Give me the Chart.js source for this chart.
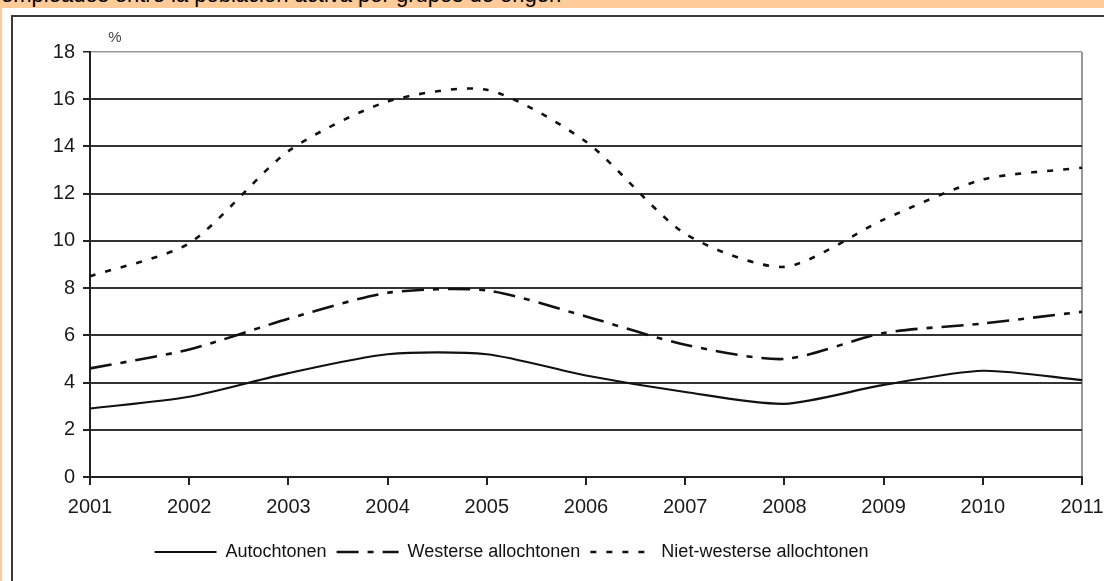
<!DOCTYPE html>
<html>
<head>
<meta charset="utf-8">
<script src="https://cdn.jsdelivr.net/npm/chart.js@4.4.1/dist/chart.umd.min.js"></script>
<style>
    html, body { margin: 0; padding: 0; }
    body { width: 1104px; height: 581px; overflow: hidden; position: relative; background: #ffcc99; font-family: "Liberation Sans", Arial, sans-serif; }
    .titulo { position: absolute; left: 1px; top: -16px; font-size: 22px; line-height: 1; color: #000; white-space: nowrap; }
    .hoja { position: absolute; left: 2px; top: 8px; right: 0; bottom: 0; background: #fff; }
    .marco { position: absolute; left: 11px; top: 15px; width: 1200px; height: 700px; border: 2px solid #3a3a3a; }
    .lienzo { position: absolute; left: 13px; top: 19px; width: 1091px; height: 562px; }
</style>
</head>
<body>
<div class="titulo">empleados entre la población activa por grupos de origen</div>
<div class="hoja"></div>
<div class="marco"></div>
<div class="lienzo"><canvas id="grafico" width="1091" height="562"></canvas></div>

<script>
// --- Datos (paro en %, por grupo de origen) ---
const anos = ['2001', '2002', '2003', '2004', '2005', '2006', '2007', '2008', '2009', '2010', '2011'];
const autochtonen = [2.9, 3.4, 4.4, 5.2, 5.2, 4.3, 3.6, 3.1, 3.9, 4.5, 4.1];
const westerse = [4.6, 5.4, 6.7, 7.8, 7.9, 6.8, 5.6, 5.0, 6.1, 6.5, 7.0];
const nietWesterse = [8.5, 9.9, 13.8, 15.9, 16.4, 14.2, 10.3, 8.9, 10.9, 12.6, 13.1];
const marcasY = [0, 2, 4, 6, 8, 10, 12, 14, 16, 18];

// pequeño plugin para el "%" encima del eje y, y para mover la leyenda un poco a la izquierda
const extras = {
    id: 'extras',
    afterLayout(chart) {
        chart.legend.right -= 72;
    },
    afterDraw(chart) {
        const c = chart.ctx;
        const area = chart.chartArea;
        c.save();
        c.font = '15px "Liberation Sans", Arial, sans-serif';
        c.fillStyle = '#444';
        c.textAlign = 'center';
        c.textBaseline = 'middle';
        c.fillText('%', area.left + 25, area.top - 14);
        c.restore();
    }
};

new Chart(document.getElementById('grafico'), {
    type: 'line',
    data: {
        labels: anos,
        datasets: [
            { label: 'Autochtonen', data: autochtonen, borderColor: '#111', borderWidth: 2.2, borderDash: [] },
            { label: 'Westerse allochtonen', data: westerse, borderColor: '#111', borderWidth: 2.6, borderDash: [22, 9, 6, 9] },
            { label: 'Niet-westerse allochtonen', data: nietWesterse, borderColor: '#111', borderWidth: 2.6, borderDash: [6, 10] }
        ]
    },
    options: {
        responsive: false,
        animation: false,
        layout: { padding: { top: 33, right: 22, left: 0, bottom: 10 } },
        elements: {
            point: { radius: 0 },
            line: { tension: 0.25, fill: false }
        },
        scales: {
            x: {
                offset: false,
                afterFit: (s) => { s.height = 56; s.paddingLeft = 0; s.paddingRight = 0; },
                border: { color: '#222', width: 2 },
                grid: {
                    color: (ctx) => ctx.index === anos.length - 1 ? '#999' : 'rgba(0,0,0,0)',
                    tickColor: '#222',
                    tickLength: 8,
                    lineWidth: 2
                },
                ticks: {
                    font: { family: '"Liberation Sans", Arial, sans-serif', size: 20 },
                    color: '#1a1a1a',
                    padding: 10,
                    maxRotation: 0,
                    autoSkip: false
                }
            },
            y: {
                min: 0,
                max: 18,
                afterFit: (s) => { s.width = 77; s.paddingTop = 0; s.paddingBottom = 0; },
                afterBuildTicks: (s) => { s.ticks = marcasY.map(v => ({ value: v })); },
                border: { color: '#222', width: 2 },
                grid: {
                    color: (ctx) => ctx.tick && ctx.tick.value === 18 ? '#999' : '#333',
                    lineWidth: (ctx) => ctx.tick && ctx.tick.value === 18 ? 1.5 : 2,
                    tickColor: '#222',
                    tickLength: 7
                },
                ticks: {
                    font: { family: '"Liberation Sans", Arial, sans-serif', size: 20 },
                    color: '#1a1a1a',
                    padding: 8
                }
            }
        },
        plugins: {
            legend: {
                position: 'bottom',
                labels: {
                    usePointStyle: true,
                    pointStyle: 'line',
                    pointStyleWidth: 62,
                    padding: 10,
                    color: '#111',
                    font: { family: '"Liberation Sans", Arial, sans-serif', size: 18 },
                    // el estilo de punto no lleva el trazo discontinuo: se copia del dataset
                    generateLabels: (chart) => Chart.defaults.plugins.legend.labels.generateLabels(chart).map((item, i) => {
                        const ds = chart.data.datasets[i];
                        item.lineDash = ds.borderDash;
                        item.lineWidth = ds.borderWidth;
                        item.strokeStyle = ds.borderColor;
                        return item;
                    })
                }
            },
            tooltip: { enabled: false }
        }
    },
    plugins: [extras]
});
</script>
</body>
</html>
